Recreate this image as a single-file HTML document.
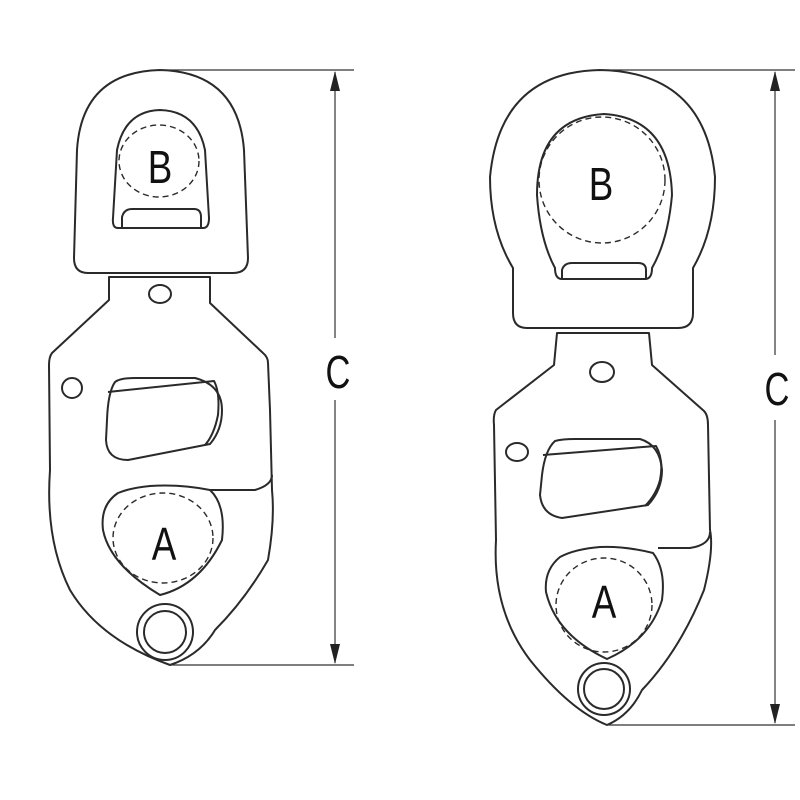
<!DOCTYPE html>
<html><head><meta charset="utf-8"><style>html,body{margin:0;padding:0;background:#fff}svg{display:block}</style></head><body>
<svg width="800" height="800" viewBox="0 0 800 800" xmlns="http://www.w3.org/2000/svg">
<g fill="none" stroke="#2a2a2a" stroke-width="2" stroke-linejoin="round">
<!-- LEFT -->
<path d="M88,273 Q74,273 74,258 L77,150 Q82,72 160,70 Q238,72 244,150 L248,258 Q248,273 233,273 Z"/>
<path d="M118,228 Q112,228 113,218 L117,150 Q125,111 160,110 Q197,111 205,150 L209,218 Q209,228 203,228 Z"/>
<path d="M122,228 L122,217 Q124,209 132,209 L194,209 Q201,209 201,217 L201,228"/>
<ellipse cx="159" cy="161" rx="40" ry="36" stroke-dasharray="6,4" stroke-width="1.4"/>
<path d="M109,277 L109,300 L52,353 Q49,357 49,365 L50,470 Q45,540 70,590 Q100,640 170,665 Q200,655 215,630 Q245,600 268,560 Q275,520 272,490 L270,410 L268,363 Q268,357 263,353 L210,303 L210,277 Z"/>
<ellipse cx="160" cy="294" rx="11" ry="9"/>
<ellipse cx="72" cy="388" rx="10" ry="10"/>
<path d="M115,382 Q108,392 107,420 L106,440 Q107,460 128,460 L210,444 Q222,430 222,410 Q222,385 195,378 L135,378 Q120,378 115,382 Z"/>
<path d="M108,392 L214,381 Q220,392 218,415 Q214,435 205,445"/>
<path d="M232,490 L255,490 Q272,485 272,475"/>
<path d="M118,493 Q100,505 103,530 Q110,565 160,595 Q200,585 222,540 Q226,505 210,490 Q180,484 150,486 Q130,488 118,493 Z"/>
<path d="M210,490 L232,490"/>
<ellipse cx="163" cy="538" rx="50" ry="45" stroke-dasharray="6,4" stroke-width="1.4"/>
<circle cx="165" cy="632" r="28"/>
<circle cx="165" cy="632" r="21"/>
<!-- RIGHT -->
<path d="M527,328 Q513,328 513,313 L513,268 Q490,230 490,177 Q500,72 600,70 Q705,72 715,177 Q715,230 693,268 L693,313 Q693,328 678,328 Z"/>
<path d="M562,279 Q555,279 555,268 Q540,240 537,195 Q537,118 604,114 Q670,118 672,195 Q668,240 652,268 Q652,279 645,279 Z"/>
<path d="M562,279 L562,270 Q564,263 572,263 L638,263 Q646,263 646,270 L646,279"/>
<circle cx="602" cy="180" r="63" stroke-dasharray="6,4" stroke-width="1.4"/>
<path d="M557,333 L554,365 L496,410 Q493,415 494,425 L496,540 Q492,610 530,660 Q570,710 607,725 Q630,715 642,690 Q680,650 704,590 Q714,550 710,530 L708,425 Q708,415 704,411 L652,365 L649,333 Z"/>
<ellipse cx="602" cy="372" rx="12" ry="10"/>
<ellipse cx="517" cy="452" rx="11" ry="9"/>
<path d="M555,441 Q545,450 542,475 L540,495 Q542,515 562,518 L648,505 Q662,490 662,470 Q660,445 640,439 L575,439 Q562,439 555,441 Z"/>
<path d="M543,455 L656,446 Q664,460 660,480 Q656,495 645,506"/>
<path d="M658,548 L690,548 Q710,545 710,532"/>
<path d="M560,557 Q544,570 546,592 Q556,635 607,659 Q650,640 662,600 Q666,570 653,553 Q625,546 600,547 Q575,549 560,557 Z"/>
<ellipse cx="604" cy="605" rx="48" ry="47" stroke-dasharray="6,4" stroke-width="1.4"/>
<circle cx="604" cy="689" r="26"/>
<circle cx="604" cy="689" r="20"/>
</g>
<!-- dimensions -->
<g stroke="#333" stroke-width="1.2" fill="none">
<line x1="160" y1="70" x2="354" y2="70"/>
<line x1="170" y1="665" x2="354" y2="665"/>
<line x1="335" y1="72" x2="335" y2="338"/>
<line x1="335" y1="400" x2="335" y2="663"/>
<line x1="600" y1="70" x2="795" y2="70"/>
<line x1="607" y1="725" x2="795" y2="725"/>
<line x1="775" y1="72" x2="775" y2="355"/>
<line x1="775" y1="420" x2="775" y2="723"/>
</g>
<g fill="#222">
<polygon points="335,71 330,91 340,91"/>
<polygon points="335,664 330,644 340,644"/>
<polygon points="775,71 770,91 780,91"/>
<polygon points="775,724 770,704 780,704"/>
</g>
<g font-family="Liberation Sans, sans-serif" fill="#111" text-anchor="middle" font-size="46">
<text transform="translate(160,183) scale(0.8,1)">B</text>
<text transform="translate(164,560) scale(0.8,1)">A</text>
<text transform="translate(338,388) scale(0.75,1)">C</text>
<text transform="translate(601,200) scale(0.8,1)">B</text>
<text transform="translate(604,618) scale(0.8,1)">A</text>
<text transform="translate(777,405) scale(0.75,1)">C</text>
</g>
</svg>
</body></html>
